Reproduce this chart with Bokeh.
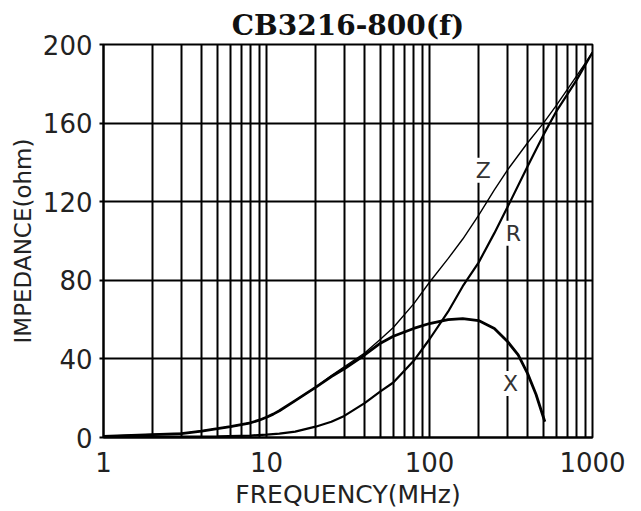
from bokeh.plotting import figure
from bokeh.models import FixedTicker, Label, NumeralTickFormatter
from bokeh.embed import file_html
from bokeh.resources import INLINE

# ---- data ----
title_text = "CB3216-800(f)"
x_major = [1, 10, 100, 1000]
x_minor = [2, 3, 4, 5, 6, 7, 8, 9,
           20, 30, 40, 50, 60, 70, 80, 90,
           200, 300, 400, 500, 600, 700, 800, 900]
y_ticks = [0, 40, 80, 120, 160, 200]

z_freq = [1, 2, 3, 4, 5, 6, 8, 9, 10, 11, 12, 15, 20, 25, 30, 40, 50, 60, 80,
          100, 130, 160, 200, 250, 300, 400, 500, 600, 800, 1000]
z_ohm = [0.6, 1.5, 2, 3.3, 4.5, 5.5, 7.5, 8.8, 10.3, 11.9, 13.6, 18.8, 25.5,
         31.5, 36, 43, 50, 56, 68, 79, 91, 101, 113, 126, 136, 150, 160, 169,
         184, 196]

r_freq = [1, 2, 5, 8, 10, 12, 15, 20, 25, 30, 40, 50, 60, 80, 100, 130, 160,
          200, 250, 300, 400, 500, 600, 800, 1000]
r_ohm = [0.3, 0.4, 0.6, 1, 1.5, 2, 3, 5.5, 8, 11, 17.5, 23.5, 28, 39, 50, 64,
         77, 89, 104, 117, 138, 154, 166, 182, 196]

x_freq = [1, 2, 3, 4, 5, 6, 8, 9, 10, 11, 12, 15, 20, 25, 30, 40, 50, 60, 80,
          100, 130, 160, 200, 250, 300, 350, 400, 450, 510]
x_ohm = [0.6, 1.5, 2, 3.3, 4.5, 5.5, 7.5, 8.8, 10.3, 11.9, 13.6, 18.8, 25.5,
         31, 35, 42, 48, 51.5, 55.5, 58, 60, 60.5, 59.5, 55.5, 49, 42, 32.5,
         22, 8]

curve_names = ["Z", "R", "X"]
name_freq = [214, 327, 314]
name_ohm = [136, 104, 27.5]

# ---- figure ----
p = figure(width=641, height=511, x_axis_type="log",
           x_range=(1, 1000), y_range=(0, 200),
           output_backend="svg", toolbar_location=None,
           title=title_text)
p.min_border_left = 103
p.min_border_right = 49
p.min_border_top = 44
p.min_border_bottom = 74
p.background_fill_color = "white"
p.border_fill_color = "white"
p.outline_line_color = "black"
p.outline_line_width = 2

p.title.text_font = "DejaVu Serif"
p.title.text_font_style = "bold"
p.title.text_font_size = "28px"
p.title.align = "center"
p.title.text_color = "#111111"
p.title.standoff = 6

p.xaxis.ticker = FixedTicker(ticks=x_major, minor_ticks=x_minor)
p.xaxis.formatter = NumeralTickFormatter(format="0")
p.yaxis.ticker = FixedTicker(ticks=y_ticks)

for ax in (p.xaxis, p.yaxis):
    ax.axis_line_color = "black"
    ax.axis_line_width = 2
    ax.minor_tick_line_color = None
    ax.major_label_text_font = "DejaVu Sans"
    ax.major_label_text_font_size = "26px"
    ax.major_label_text_color = "#222222"
    ax.axis_label_text_font = "DejaVu Sans"
    ax.axis_label_text_font_style = "normal"
    ax.axis_label_text_color = "#222222"

p.xaxis.axis_label_text_font_size = "25px"
p.yaxis.axis_label_text_font_size = "23px"

p.xaxis.major_tick_line_color = None
p.xaxis.major_tick_out = 0
p.xaxis.major_tick_in = 0
p.xaxis.major_label_standoff = 10
p.xaxis.axis_label = "FREQUENCY(MHz)"
p.xaxis.axis_label_standoff = 5

p.yaxis.major_tick_line_color = "black"
p.yaxis.major_tick_line_width = 2
p.yaxis.major_tick_out = 4
p.yaxis.major_tick_in = 0
p.yaxis.major_label_standoff = 7
p.yaxis.axis_label = "IMPEDANCE(ohm)"
p.yaxis.axis_label_standoff = 4

p.xgrid.grid_line_color = "black"
p.xgrid.grid_line_width = 2
p.xgrid.minor_grid_line_color = "black"
p.xgrid.minor_grid_line_width = 2
p.ygrid.grid_line_color = "black"
p.ygrid.grid_line_width = 2

p.line(z_freq, z_ohm, line_color="black", line_width=1.4)
p.line(r_freq, r_ohm, line_color="black", line_width=2.2)
p.line(x_freq, x_ohm, line_color="black", line_width=2.8)

for name, fx, vy in zip(curve_names, name_freq, name_ohm):
    p.add_layout(Label(x=fx, y=vy, text=name, text_align="center",
                       text_baseline="middle", text_font="DejaVu Sans",
                       text_font_size="22px", text_color="#333333",
                       background_fill_color="white"))

open("out.html", "w").write(file_html(p, INLINE))
